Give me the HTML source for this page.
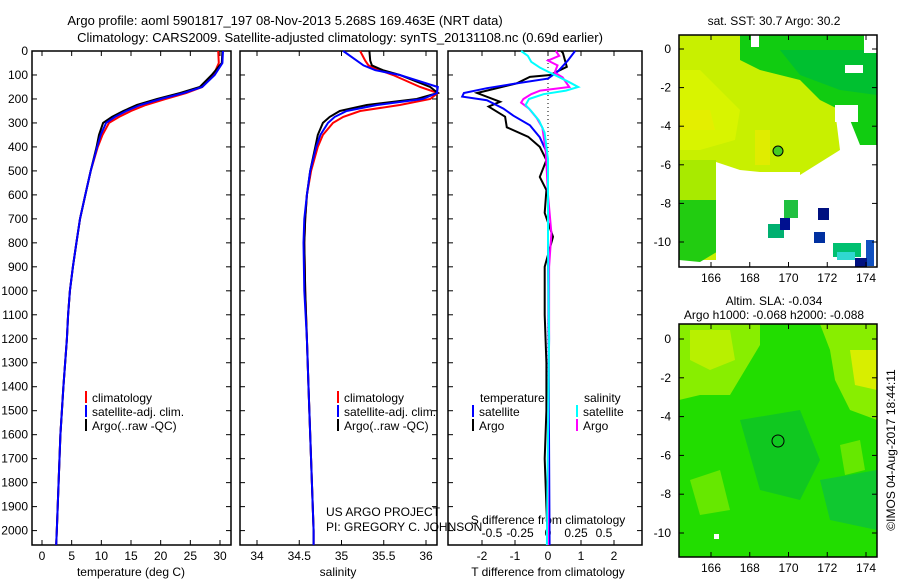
<!DOCTYPE html>
<html><head><meta charset="utf-8">
<style>
html,body{margin:0;padding:0;background:#fff;}
svg{display:block;font-family:"Liberation Sans",sans-serif;}
</style></head>
<body>
<svg id="fig" width="900" height="580" viewBox="0 0 900 580" xmlns="http://www.w3.org/2000/svg">
<g id="titles" font-size="13" fill="#000">
<text x="285" y="25" text-anchor="middle">Argo profile: aoml 5901817_197 08-Nov-2013 5.268S 169.463E (NRT data)</text>
<text x="340" y="42" text-anchor="middle">Climatology: CARS2009. Satellite-adjusted climatology: synTS_20131108.nc (0.69d earlier)</text>
</g>
<g id="panels"></g>
<g id="maps">
 <g>
  <rect x="679" y="35" width="198" height="232" fill="#fff"/>
  <polygon points="679,35 830,35 835,110 840,150 820,175 800,175 780,172 770,180 760,172 740,170 716,162 716,230 730,240 735,260 679,260" fill="#c8f000"/>
  <polygon points="679,70 700,70 720,90 740,110 735,140 700,150 679,150" fill="#d8f400"/>
  <polygon points="679,110 710,110 715,130 679,130" fill="#e4ee00"/>
  <polygon points="755,130 770,130 770,165 755,165" fill="#e0ec00"/>
  <polygon points="679,160 716,160 716,240 679,240" fill="#a8ea00"/>
  <polygon points="679,200 716,200 720,250 700,262 679,260" fill="#22cc11"/>
  <polygon points="740,35 877,35 877,145 860,145 850,120 840,110 820,100 800,80 760,70 740,60" fill="#11cc11"/>
  <polygon points="780,50 877,50 877,95 840,90 800,75" fill="#00c030"/>
  <polygon points="835,105 858,105 858,122 835,122" fill="#fff"/>
  <rect x="751" y="35" width="8" height="12" fill="#fff"/>
  <rect x="864" y="35" width="13" height="18" fill="#fff"/>
  <rect x="845" y="65" width="18" height="8" fill="#fff"/>
  <polygon points="720,172 800,172 800,175 840,150 877,150 877,267 716,267 716,162" fill="#fff"/>
  <rect x="784" y="200" width="14" height="18" fill="#20c040"/>
  <rect x="768" y="224" width="16" height="14" fill="#00b070"/>
  <rect x="780" y="218" width="10" height="12" fill="#001090"/>
  <rect x="818" y="208" width="11" height="12" fill="#001080"/>
  <rect x="814" y="232" width="11" height="11" fill="#0030a0"/>
  <rect x="833" y="243" width="28" height="14" fill="#00c070"/>
  <rect x="837" y="252" width="18" height="8" fill="#30d8d0"/>
  <rect x="866" y="240" width="8" height="26" fill="#1050c0"/>
  <rect x="855" y="258" width="12" height="9" fill="#001080"/>
  <circle cx="778" cy="151" r="5" fill="#44cc22" stroke="#000" stroke-width="1"/>
 </g>
 <g>
  <rect x="679" y="324" width="198" height="233" fill="#22dd00"/>
  <polygon points="679,324 760,324 760,345 745,370 730,395 700,395 679,400" fill="#88ee00"/>
  <polygon points="690,330 730,330 735,360 710,370 690,360" fill="#b8f000"/>
  <polygon points="820,324 877,324 877,420 850,410 835,380 830,350" fill="#88ee00"/>
  <polygon points="850,350 877,350 877,390 855,385" fill="#d8ee00"/>
  <polygon points="690,480 720,470 730,510 700,515" fill="#66e800"/>
  <polygon points="840,445 860,440 865,470 845,475" fill="#66e800"/>
  <polygon points="740,420 800,410 820,460 800,500 760,490" fill="#10c820"/>
  <polygon points="820,480 877,470 877,530 830,520" fill="#10c830"/>
  <circle cx="778" cy="441" r="6" fill="none" stroke="#000" stroke-width="1"/>
  <rect x="714" y="534" width="5" height="5" fill="#fff"/>
 </g>
 <g font-size="12" fill="#000">
  <text x="774" y="25" text-anchor="middle">sat. SST: 30.7 Argo: 30.2</text>
  <text x="774" y="305" text-anchor="middle">Altim. SLA: -0.034</text>
  <text x="774" y="319" text-anchor="middle">Argo h1000: -0.068 h2000: -0.088</text>
  <text transform="translate(895,450) rotate(-90)" text-anchor="middle">©IMOS 04-Aug-2017 18:44:11</text>
 </g>
 <g id="mapaxes"></g>
</g>
</svg>
<script>
const depthT = [0,50,100,150,175,200,225,250,275,300,350,400,500,600,700,800,900,1000,1100,1200,1400,1600,1800,2000,2060];
const tempArgo = [30.4,30.3,28.6,26.6,23.3,19.4,16.0,13.7,11.8,10.3,9.6,9.2,8.2,7.3,6.4,5.8,5.2,4.7,4.4,4.2,3.6,3.1,2.8,2.5,2.4];
const tempClim = [29.7,29.8,28.9,27.0,24.3,20.8,17.5,15.0,13.0,11.3,10.2,9.4,8.2,7.3,6.4,5.8,5.2,4.7,4.4,4.2,3.6,3.1,2.8,2.5,2.4];
const tempSat  = [30.5,30.4,29.1,27.0,23.9,20.0,16.6,14.2,12.3,10.8,9.9,9.3,8.2,7.3,6.4,5.8,5.2,4.7,4.4,4.2,3.6,3.1,2.8,2.5,2.4];
const depthS = [0,40,60,80,100,150,175,200,225,250,275,300,350,400,500,600,700,800,1000,1200,1400,1600,1800,2000,2060];
const salArgo = [35.33,35.34,35.36,35.49,35.69,36.05,36.14,35.89,35.30,34.98,34.86,34.78,34.72,34.69,34.63,34.59,34.57,34.56,34.57,34.59,34.61,34.63,34.65,34.67,34.67];
const salClim = [35.22,35.28,35.32,35.45,35.61,35.93,36.14,36.05,35.69,35.22,35.02,34.90,34.78,34.72,34.64,34.59,34.57,34.56,34.57,34.59,34.61,34.63,34.65,34.67,34.67];
const salSat  = [35.02,35.18,35.26,35.40,35.69,36.14,36.13,35.96,35.42,35.06,34.92,34.84,34.75,34.70,34.63,34.59,34.56,34.55,34.56,34.59,34.61,34.63,34.65,34.67,34.67];
const depthDT = [0,8,66,100,108,135,175,212,232,274,318,358,400,455,525,580,675,775,900,1100,1300,1500,1700,1900,2060];
const dTArgo = [0.4,0.45,0.57,0.06,-0.55,-0.95,-2.15,-1.45,-1.8,-1.3,-1.25,-0.6,-0.25,-0.05,-0.25,-0.05,-0.1,0.15,-0.1,-0.1,-0.05,-0.05,-0.1,-0.05,0.0];
const depthDTs = [0,40,85,115,135,155,175,190,205,240,270,310,360,420,500,800,1200,1600,2060];
const dTSat = [0.82,0.6,0.3,0.0,-0.95,-1.85,-2.55,-2.6,-1.85,-1.35,-1.05,-0.55,-0.25,-0.05,0.0,0.0,0.02,0.03,0.05];
const depthDS = [0,20,40,60,90,110,130,150,165,180,200,215,240,280,320,420,600,760,900,1200,1600,2060];
const dSArgo = [0.07,0.1,0.0,0.085,0.06,0.13,0.16,0.19,-0.07,-0.15,-0.22,-0.24,-0.17,-0.1,-0.05,-0.02,0.0,0.03,0.01,0.01,0.0,0.0];
const depthDSs = [0,20,45,70,100,130,150,165,180,200,225,250,290,340,450,800,1200,1600,2060];
const dSSat = [-0.24,-0.18,-0.15,-0.07,0.06,0.19,0.27,0.16,-0.04,-0.17,-0.2,-0.15,-0.08,-0.03,0.0,0.0,0.01,0.0,-0.01];
const depthTicks = [0,100,200,300,400,500,600,700,800,900,1000,1100,1200,1300,1400,1500,1600,1700,1800,1900,2000];
const tempTicks = [0,5,10,15,20,25,30];
const salTicks = [34,34.5,35,35.5,36];
const salTickLabels = ["34","34.5","35","35.5","36"];
const dTTicks = [-2,-1,0,1,2];
const dSTicks = [-0.5,-0.25,0,0.25,0.5];
const lonTicks = [166,168,170,172,174];
const latTicks = [0,-2,-4,-6,-8,-10];

const NS = "http://www.w3.org/2000/svg";
const root = document.getElementById('panels');
function mk(tag, parent){ const e=document.createElementNS(NS,tag); parent.appendChild(e); return e; }
const yTop=51, yBot=545;
function yD(d){ return yTop + d*0.2398; }
function lin(d0,d1,p0,p1){ return v => p0 + (v-d0)*(p1-p0)/(d1-d0); }
const xT = lin(0,30,42,220);
const xS = lin(34,36,257,426);
const xDT = lin(0,1,548,581);
const xDS = lin(0,0.5,548,604);

function panel(x0,x1,name){
  const r = mk('rect',root);
  r.setAttribute('x',x0); r.setAttribute('y',yTop); r.setAttribute('width',x1-x0); r.setAttribute('height',yBot-yTop);
  r.setAttribute('fill','none'); r.setAttribute('stroke','#000'); r.setAttribute('stroke-width','1.5');
  
  
}
function tickLine(x1,y1,x2,y2){
  const l = mk('line',root);
  l.setAttribute('x1',x1); l.setAttribute('y1',y1); l.setAttribute('x2',x2); l.setAttribute('y2',y2);
  l.setAttribute('stroke','#000'); l.setAttribute('stroke-width','1');
  
  
}
function txt(x,y,s,anchor,size,name,parent){
  const t = mk('text',parent||root);
  t.setAttribute('x',x); t.setAttribute('y',y); t.setAttribute('text-anchor',anchor||'middle');
  t.setAttribute('font-size',size||12); t.textContent=s;
  
  
  return t;
}
function series(xs, ds, fx, color, name){
  const p = mk('polyline',root);
  p.setAttribute('points', xs.map((v,i)=>fx(v).toFixed(1)+','+yD(ds[i]).toFixed(1)).join(' '));
  p.setAttribute('fill','none'); p.setAttribute('stroke',color); p.setAttribute('stroke-width','2');
  
  
}

const P = [[32,231],[240,437],[448,642]];
P.forEach((p,i)=>{
  panel(p[0],p[1],['temperature-panel','salinity-panel','difference-panel'][i]);
  depthTicks.forEach(d=>{ tickLine(p[0],yD(d),p[0]+5,yD(d)); tickLine(p[1]-5,yD(d),p[1],yD(d)); });
});
depthTicks.forEach(d=>txt(28,yD(d)+4,String(d),'end',12,'depth-tick-label'));
tempTicks.forEach(v=>{ tickLine(xT(v),yTop,xT(v),yTop+5); tickLine(xT(v),yBot-5,xT(v),yBot); txt(xT(v),560,String(v),'middle',12,'temperature-tick-label'); });
salTicks.forEach((v,i)=>{ tickLine(xS(v),yTop,xS(v),yTop+5); tickLine(xS(v),yBot-5,xS(v),yBot); txt(xS(v),560,salTickLabels[i],'middle',12,'salinity-tick-label'); });
dTTicks.forEach(v=>{ tickLine(xDT(v),yTop,xDT(v),yTop+5); tickLine(xDT(v),yBot-5,xDT(v),yBot); txt(xDT(v),560,String(v),'middle',12,'t-diff-tick-label'); });
dSTicks.forEach(v=>{ txt(xDS(v),537,String(v),'middle',12,'s-diff-tick-label'); });
txt(131,576,'temperature (deg C)','middle',12,'temperature-axis-title');
txt(338,576,'salinity','middle',12,'salinity-axis-title');
txt(548,576,'T difference from climatology','middle',12,'t-diff-axis-title');
txt(548,524,'S difference from climatology','middle',12,'s-diff-axis-title');
txt(326,516,'US ARGO PROJECT','start',12,'project-label');
txt(326,531,'PI: GREGORY C. JOHNSON','start',12,'pi-label');

const z = mk('line',root);
z.setAttribute('x1',xDT(0)); z.setAttribute('x2',xDT(0)); z.setAttribute('y1',yTop); z.setAttribute('y2',yBot);
z.setAttribute('stroke','#000'); z.setAttribute('stroke-dasharray','1,3'); z.setAttribute('stroke-width','1');



series(tempClim, depthT, xT, '#f00', 'temperature-climatology-line');
series(tempArgo, depthT, xT, '#000', 'temperature-argo-line');
series(tempSat, depthT, xT, '#00f', 'temperature-satellite-line');
series(salClim, depthS, xS, '#f00', 'salinity-climatology-line');
series(salArgo, depthS, xS, '#000', 'salinity-argo-line');
series(salSat, depthS, xS, '#00f', 'salinity-satellite-line');
series(dTArgo, depthDT, xDT, '#000', 't-diff-argo-line');
series(dTSat, depthDTs, xDT, '#00f', 't-diff-satellite-line');
series(dSArgo, depthDS, xDS, '#f0f', 's-diff-argo-line');
series(dSSat, depthDSs, xDS, '#0ff', 's-diff-satellite-line');

function legendItem(x,y,color,label,name){
  const l = mk('line',root);
  l.setAttribute('x1',x); l.setAttribute('x2',x); l.setAttribute('y1',y-11); l.setAttribute('y2',y+1);
  l.setAttribute('stroke',color); l.setAttribute('stroke-width','2');
  
  
  txt(x+6,y,label,'start',12,name);
}
[[86],[338]].forEach((p,i)=>{
  const pre = i===0?'temp':'sal';
  legendItem(p[0],402,'#f00','climatology',pre+'-legend-climatology');
  legendItem(p[0],416,'#00f','satellite-adj. clim.',pre+'-legend-satellite');
  legendItem(p[0],430,'#000','Argo(..raw -QC)',pre+'-legend-argo');
});
txt(480,402,'temperature','start',12,'diff-legend-temperature-header');
txt(584,402,'salinity','start',12,'diff-legend-salinity-header');
legendItem(473,416,'#00f','satellite','diff-legend-t-satellite');
legendItem(473,430,'#000','Argo','diff-legend-t-argo');
legendItem(577,416,'#0ff','satellite','diff-legend-s-satellite');
legendItem(577,430,'#f0f','Argo','diff-legend-s-argo');

const mapRoot = document.getElementById('mapaxes');
const lonX = lin(166,174,711,866);
const maps = [{y0:35,y1:267,lat:lin(0,-10,49,242),name:'sst'},{y0:324,y1:557,lat:lin(0,-10,339,533),name:'sla'}];
maps.forEach(m=>{
  const r = mk('rect',mapRoot);
  r.setAttribute('x',679); r.setAttribute('y',m.y0); r.setAttribute('width',198); r.setAttribute('height',m.y1-m.y0);
  r.setAttribute('fill','none'); r.setAttribute('stroke','#000'); r.setAttribute('stroke-width','1.5');
  
  
  lonTicks.forEach(v=>{
    const x=lonX(v);
    [[m.y0,m.y0+5],[m.y1-5,m.y1]].forEach(s=>{ const l=mk('line',mapRoot); l.setAttribute('x1',x); l.setAttribute('x2',x); l.setAttribute('y1',s[0]); l.setAttribute('y2',s[1]); l.setAttribute('stroke','#000');
      
       });
    txt(x,m.y1+15,String(v),'middle',12,m.name+'-lon-label',mapRoot);
  });
  latTicks.forEach(v=>{
    const y=m.lat(v);
    [[679,684],[872,877]].forEach(s=>{ const l=mk('line',mapRoot); l.setAttribute('x1',s[0]); l.setAttribute('x2',s[1]); l.setAttribute('y1',y); l.setAttribute('y2',y); l.setAttribute('stroke','#000');
      
       });
    txt(671,y+4,String(v),'end',12,m.name+'-lat-label',mapRoot);
  });
});
</script>
</body></html>
